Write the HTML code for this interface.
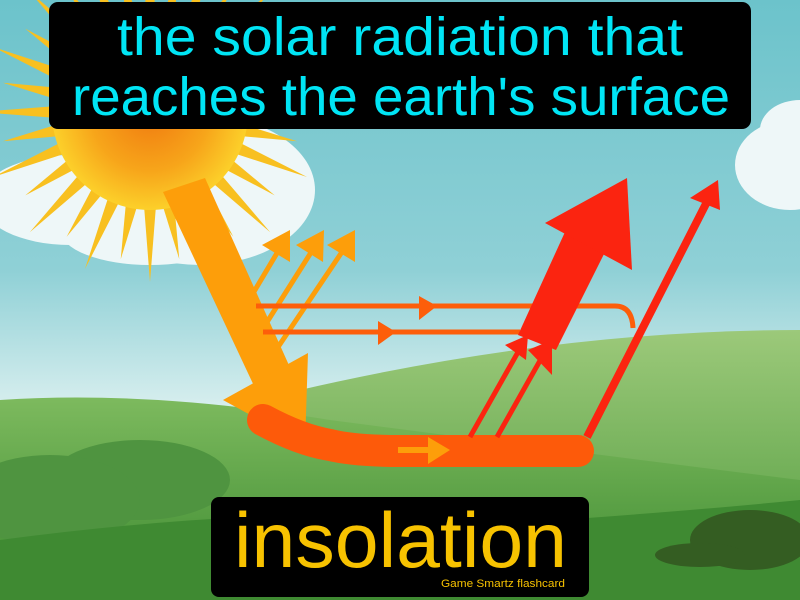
<!DOCTYPE html>
<html><head><meta charset="utf-8"><style>
html,body{margin:0;padding:0;width:800px;height:600px;overflow:hidden}
svg{display:block}
</style></head><body>
<svg width="800" height="600" viewBox="0 0 800 600">
<defs>
<linearGradient id="sky" x1="0" y1="0" x2="0" y2="1">
<stop offset="0" stop-color="#6cc3cb"/><stop offset="0.45" stop-color="#8fd0d6"/><stop offset="0.75" stop-color="#eef8f6"/><stop offset="1" stop-color="#ffffff"/>
</linearGradient>
<radialGradient id="sun" cx="0.5" cy="0.5" r="0.5">
<stop offset="0" stop-color="#f07a10"/><stop offset="0.6" stop-color="#f7a51a"/><stop offset="1" stop-color="#fcd02a"/>
</radialGradient>
<linearGradient id="hill" x1="0" y1="0" x2="0" y2="1"><stop offset="0" stop-color="#9cc97a"/><stop offset="1" stop-color="#4e9a3c"/></linearGradient>
<linearGradient id="hill2" x1="0" y1="0" x2="0" y2="1"><stop offset="0" stop-color="#7dba5e"/><stop offset="1" stop-color="#3c8a30"/></linearGradient>
</defs>
<rect width="800" height="600" fill="url(#sky)"/>
<g fill="#eef7f8">
<ellipse cx="70" cy="200" rx="90" ry="45"/><ellipse cx="200" cy="190" rx="115" ry="75"/><ellipse cx="150" cy="230" rx="90" ry="35"/>
</g>
<g fill="#eef7f8">
<ellipse cx="790" cy="165" rx="55" ry="45"/><ellipse cx="800" cy="130" rx="40" ry="30"/>
</g>
<g>
<path d="M300,390 Q560,330 800,330 L800,600 L300,600Z" fill="url(#hill)"/>
<path d="M0,400 Q150,390 330,420 Q560,450 800,480 L800,600 L0,600Z" fill="url(#hill2)"/>
<ellipse cx="140" cy="480" rx="90" ry="40" fill="#4f9440"/>
<ellipse cx="50" cy="500" rx="90" ry="45" fill="#4f9440"/>
<path d="M0,540 Q300,500 560,520 Q700,510 800,500 L800,600 L0,600Z" fill="#3f8a32"/>
<ellipse cx="750" cy="540" rx="60" ry="30" fill="#345d22"/>
<ellipse cx="700" cy="555" rx="45" ry="12" fill="#345d22"/>
</g>
<g>
<g fill="#f8c020" id="rays"></g>
<circle cx="150" cy="112" r="98" fill="url(#sun)"/>
</g>
<g>
<polygon points="163,192 205,178 292,372 255,388" fill="#fd9e0a"/>
<polygon points="223,400 308,353 305,445" fill="#fd9e0a"/>
<g stroke="#fd9e0a" stroke-width="5" fill="#fd9e0a">
<line x1="252" y1="295" x2="283" y2="243"/><polygon points="262,245 290,230 290,262" stroke="none"/>
<line x1="262" y1="330" x2="317" y2="243"/><polygon points="296,245 324,230 323,262" stroke="none"/>
<line x1="272" y1="356" x2="348" y2="243"/><polygon points="327,245 355,230 355,262" stroke="none"/>
</g>
<path d="M256,306 L615,306 Q632,306 633,328" fill="none" stroke="#fd5e0a" stroke-width="5"/>
<polygon points="419,296 437,306 419,320" fill="#fd5e0a"/>
<line x1="263" y1="332" x2="520" y2="332" stroke="#fd5e0a" stroke-width="5"/>
<polygon points="378,321 396,332 378,345" fill="#fd5e0a"/>
<path d="M263,420 Q300,440 330,445 Q355,451 400,451 L578,451" fill="none" stroke="#fd5a0a" stroke-width="32" stroke-linecap="round"/>
<line x1="398" y1="450" x2="430" y2="450" stroke="#fd9e0a" stroke-width="6"/>
<polygon points="428,437 450,450 428,464" fill="#fd9e0a"/>
<g fill="#fb2410" stroke="#fb2410">
<polygon points="518,335 556,350 607,248 565,232" stroke="none"/>
<polygon points="545,223 627,178 632,270" stroke="none"/>
<line x1="470" y1="437" x2="522" y2="345" stroke-width="5"/><polygon points="505,345 528,335 526,360" stroke="none"/>
<line x1="497" y1="437" x2="546" y2="350" stroke-width="5"/><polygon points="528,350 552,340 552,375" stroke="none"/>
<line x1="587" y1="437" x2="712" y2="192" stroke-width="8"/><polygon points="690,198 718,180 720,210" stroke="none"/>
</g>
</g>
<g>
<rect x="49" y="2" width="702" height="127" rx="9" fill="#000"/>
<text x="117" y="55" textLength="566" lengthAdjust="spacingAndGlyphs" font-family="Liberation Sans, sans-serif" font-size="54" fill="#00e5f5">the solar radiation that</text>
<text x="72" y="115" textLength="658" lengthAdjust="spacingAndGlyphs" font-family="Liberation Sans, sans-serif" font-size="54" fill="#00e5f5">reaches the earth's surface</text>
</g>
<g>
<rect x="211" y="497" width="378" height="100" rx="8" fill="#000"/>
<text x="234" y="567" textLength="333" lengthAdjust="spacingAndGlyphs" font-family="Liberation Sans, sans-serif" font-size="78" fill="#f7c200">insolation</text>
<text x="441" y="587" textLength="124" lengthAdjust="spacingAndGlyphs" font-family="Liberation Sans, sans-serif" font-size="11" fill="#f7c200">Game Smartz flashcard</text>
</g>
</svg>
<script>
var g=document.getElementById('rays');var s='';
for(var i=0;i<32;i++){var a=i/32*Math.PI*2;var cx=150,cy=112;
var r1=90,r2=(i%2?150:170);var w=0.07;
s+='<polygon points="'+(cx+r1*Math.cos(a-w))+','+(cy+r1*Math.sin(a-w))+' '+(cx+r2*Math.cos(a))+','+(cy+r2*Math.sin(a))+' '+(cx+r1*Math.cos(a+w))+','+(cy+r1*Math.sin(a+w))+'"/>';}
g.innerHTML=s;
</script>
</body></html>
